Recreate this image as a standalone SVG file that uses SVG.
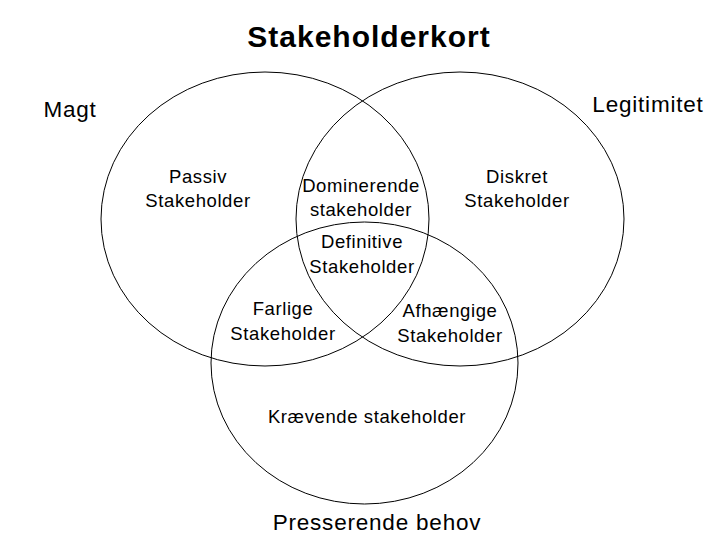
<svg xmlns="http://www.w3.org/2000/svg" width="720" height="540" viewBox="0 0 720 540">
<style>
.c{fill:none;stroke:#000;stroke-width:1}
text{font-family:"Liberation Sans",Arial,sans-serif;fill:#000;text-anchor:middle}
.l{font-size:18.5px;letter-spacing:0.6px}
.big{font-size:22.5px;letter-spacing:0.8px}
.t{font-size:30px;font-weight:bold;letter-spacing:1px}
</style>
<rect width="720" height="540" fill="#fff"/>
<g id="circles">
<ellipse id="magt" class="c" cx="265" cy="219" rx="164" ry="147"/>
<ellipse id="legitimitet" class="c" cx="460" cy="219" rx="164" ry="147"/>
<ellipse id="presserende" class="c" cx="364.5" cy="363" rx="153.5" ry="141"/>
</g>
<text class="t" x="369" y="47">Stakeholderkort</text>
<text class="big" x="70" y="117">Magt</text>
<text class="big" x="648" y="112">Legitimitet</text>
<g id="passiv"><text class="l" x="198" y="183">Passiv</text><text class="l" x="198" y="207">Stakeholder</text></g>
<g id="dominerende"><text class="l" x="361" y="192">Dominerende</text><text class="l" x="361" y="216">stakeholder</text></g>
<g id="diskret"><text class="l" x="517" y="183">Diskret</text><text class="l" x="517" y="207">Stakeholder</text></g>
<g id="definitive"><text class="l" x="362" y="248">Definitive</text><text class="l" x="362" y="273">Stakeholder</text></g>
<g id="farlige"><text class="l" x="283" y="315">Farlige</text><text class="l" x="283" y="340">Stakeholder</text></g>
<g id="afhaengige"><text class="l" x="450" y="317">Afhængige</text><text class="l" x="450" y="342">Stakeholder</text></g>
<g id="kraevende"><text class="l" x="367" y="423">Krævende stakeholder</text></g>
<text class="big" x="377" y="530">Presserende behov</text>
</svg>
